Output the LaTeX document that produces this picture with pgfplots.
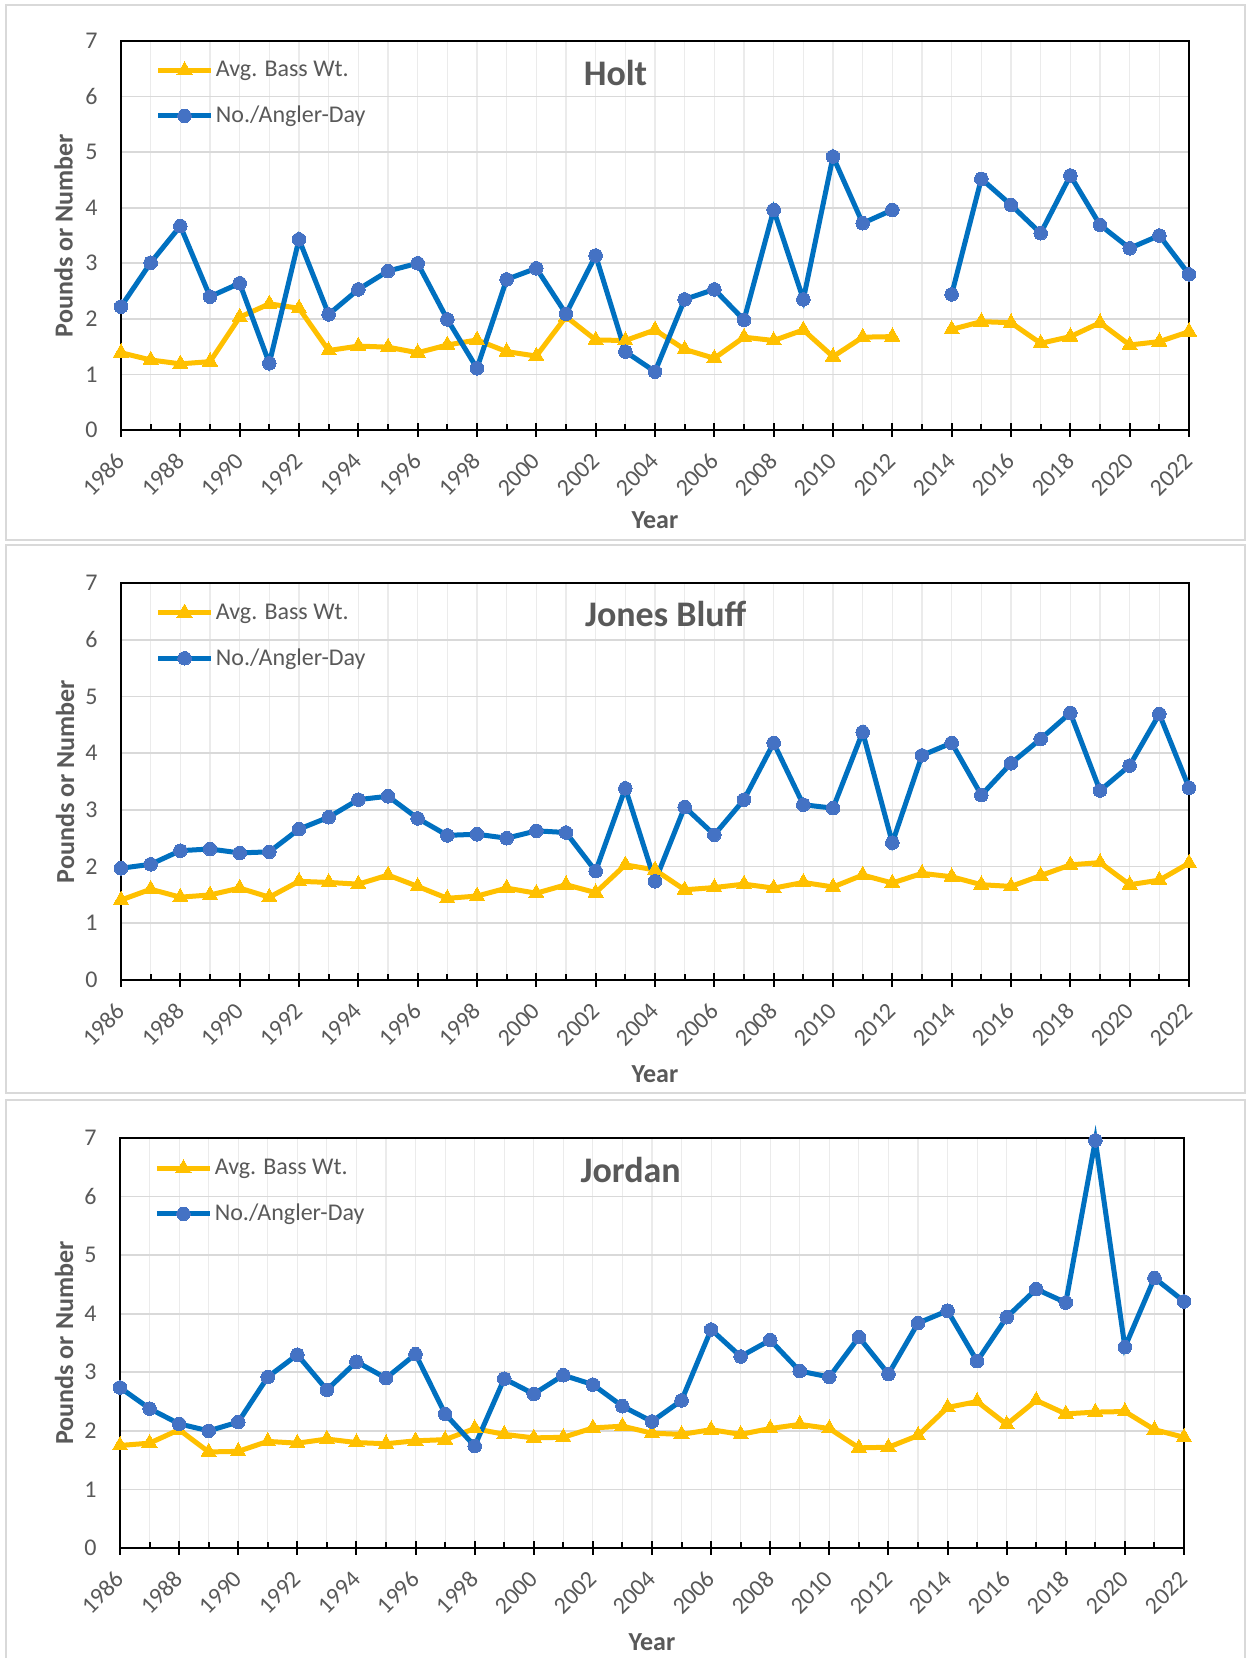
\documentclass[border=0pt]{standalone}
\usepackage{fontspec}
\setmainfont{Carlito}
\usepackage{pgfplots}
\usepackage{pgfplotstable}
\pgfplotsset{compat=1.18}
\definecolor{txtgray}{HTML}{595959}
\definecolor{blueline}{HTML}{0070C0}
\definecolor{bluemark}{HTML}{4472C4}
\definecolor{gold}{HTML}{FFC000}
\definecolor{gridmaj}{HTML}{D9D9D9}
\definecolor{gridmin}{HTML}{EBEBEB}
\definecolor{framegray}{HTML}{D9D9D9}
\newcommand\tfont{\fontsize{12}{14}\selectfont}

\pgfplotstableread{
year wt num
1986 1.39 2.22
1987 1.26 3.01
1988 1.19 3.67
1989 1.23 2.40
1990 2.03 2.64
1991 2.27 1.20
1992 2.19 3.43
1993 1.43 2.08
1994 1.51 2.53
1995 1.49 2.86
1996 1.39 3.00
1997 1.53 1.99
1998 1.62 1.11
1999 1.41 2.71
2000 1.33 2.91
2001 2.04 2.09
2002 1.62 3.14
2003 1.61 1.41
2004 1.80 1.05
2005 1.45 2.35
2006 1.29 2.53
2007 1.67 1.98
2008 1.61 3.96
2009 1.80 2.35
2010 1.32 4.92
2011 1.67 3.72
2012 1.68 3.96
2013 nan nan
2014 1.81 2.44
2015 1.95 4.52
2016 1.93 4.05
2017 1.56 3.54
2018 1.68 4.58
2019 1.93 3.69
2020 1.53 3.27
2021 1.59 3.50
2022 1.77 2.80
}\holt

\pgfplotstableread{
year wt num
1986 1.41 1.97
1987 1.60 2.04
1988 1.46 2.28
1989 1.50 2.31
1990 1.62 2.24
1991 1.46 2.26
1992 1.74 2.66
1993 1.72 2.87
1994 1.69 3.18
1995 1.85 3.24
1996 1.65 2.85
1997 1.44 2.55
1998 1.48 2.57
1999 1.62 2.50
2000 1.53 2.63
2001 1.68 2.60
2002 1.54 1.92
2003 2.03 3.38
2004 1.94 1.74
2005 1.59 3.05
2006 1.63 2.56
2007 1.69 3.18
2008 1.62 4.18
2009 1.72 3.09
2010 1.64 3.03
2011 1.85 4.37
2012 1.71 2.42
2013 1.88 3.96
2014 1.82 4.18
2015 1.68 3.26
2016 1.65 3.82
2017 1.84 4.25
2018 2.03 4.71
2019 2.07 3.34
2020 1.68 3.78
2021 1.76 4.69
2022 2.06 3.39
}\jones

\pgfplotstableread{
year wt num
1986 1.75 2.74
1987 1.79 2.38
1988 2.02 2.12
1989 1.64 2.00
1990 1.65 2.15
1991 1.82 2.92
1992 1.79 3.30
1993 1.86 2.70
1994 1.80 3.18
1995 1.78 2.90
1996 1.83 3.31
1997 1.85 2.29
1998 2.04 1.74
1999 1.94 2.89
2000 1.88 2.63
2001 1.89 2.95
2002 2.05 2.79
2003 2.08 2.42
2004 1.96 2.16
2005 1.94 2.52
2006 2.02 3.73
2007 1.94 3.27
2008 2.04 3.55
2009 2.11 3.02
2010 2.04 2.92
2011 1.71 3.60
2012 1.72 2.97
2013 1.92 3.84
2014 2.40 4.05
2015 2.50 3.19
2016 2.11 3.94
2017 2.52 4.42
2018 2.29 4.19
2019 2.32 6.96
2020 2.33 3.43
2021 2.02 4.61
2022 1.89 4.21
}\jordan

\pgfplotsset{
  lakestyle/.style={
    scale only axis,
    xmin=1986, xmax=2022, ymin=0, ymax=7,
    xtick={1986,1988,...,2022}, minor x tick num=1,
    ytick={0,1,...,7},
    xmajorgrids, xminorgrids, ymajorgrids,
    major x grid style={gridmin, line width=0.6pt},
    minor x grid style={gridmin, line width=0.6pt},
    major y grid style={gridmaj, line width=0.9pt},
    axis line style={black, line width=1pt},
    tick pos=left,
    tick align=center,
    major tick length=7pt,
    minor tick length=3pt,
    xtick style={black, line width=1pt},
    minor tick style={yshift=1.5pt},
    ytick style={draw=none},
    /pgf/number format/1000 sep={},
    /pgf/number format/assume math mode=true,
    yticklabel style={font=\tfont, text=txtgray, anchor=east, inner sep=0pt, xshift=-8pt},
    xticklabel style={font=\tfont, text=txtgray, yshift=-10pt, rotate=45, anchor=east, inner sep=0pt},
    clip=false,
    unbounded coords=jump,
    legend style={draw=none, fill=none, font=\tfont, text=txtgray, anchor=north west,
      inner sep=0pt, row sep=10.8pt, nodes={inner sep=1.2pt}},
    legend cell align=left,
    legend image code/.code={\draw[##1, mark repeat=2, mark phase=2] plot coordinates {(0pt,0pt) (13.25pt,0pt) (26.5pt,0pt)};},
  },
  wtstyle/.style={gold, line width=2.5pt, mark=triangle*, mark size=4.4pt, mark options={fill=gold, draw=gold, line width=0pt}},
  numstyle/.style={blueline, line width=2.5pt, mark=*, mark size=3.4pt, mark options={fill=bluemark, draw=bluemark, line width=0pt}},
}

\begin{document}
\begin{tikzpicture}
\useasboundingbox (0,0) rectangle (624pt,829pt);
\fill[white] (0,0) rectangle (624pt,829pt);
\draw[framegray, line width=0.9pt] (3pt,559pt) rectangle (622.5pt,826.5pt);
\draw[framegray, line width=0.9pt] (3pt,282.5pt) rectangle (622.5pt,556.5pt);
\draw[framegray, line width=0.9pt] (3pt,-5pt) rectangle (622.5pt,279pt);

% Holt
\begin{axis}[lakestyle, at={(60.5pt,614pt)}, anchor=south west, width=534pt, height=194.5pt,
  legend style={at={(rel axis cs:0.032,0.955)}}]
\addplot[wtstyle] table[x=year, y=wt] {\holt};
\addlegendentry{Avg. Bass Wt.}
\addplot[numstyle] table[x=year, y=num] {\holt};
\addlegendentry{No./Angler-Day}
\node[font=\bfseries\fontsize{18}{21}\selectfont, text=txtgray] at (rel axis cs:0.463,0.918) {Holt};
\node[font=\bfseries\fontsize{13}{15}\selectfont, text=txtgray, rotate=90] at ([xshift=-28.75pt]rel axis cs:0,0.5) {Pounds or Number};
\node[font=\bfseries\fontsize{13}{15}\selectfont, text=txtgray] at ([yshift=-45pt]rel axis cs:0.5,0) {Year};
\end{axis}

% Jones Bluff
\begin{axis}[lakestyle, at={(60.5pt,339pt)}, anchor=south west, width=534pt, height=198.5pt,
  legend style={at={(rel axis cs:0.032,0.955)}}]
\addplot[wtstyle] table[x=year, y=wt] {\jones};
\addlegendentry{Avg. Bass Wt.}
\addplot[numstyle] table[x=year, y=num] {\jones};
\addlegendentry{No./Angler-Day}
\node[font=\bfseries\fontsize{18}{21}\selectfont, text=txtgray] at (rel axis cs:0.510,0.921) {Jones Bluff};
\node[font=\bfseries\fontsize{13}{15}\selectfont, text=txtgray, rotate=90] at ([xshift=-28pt]rel axis cs:0,0.5) {Pounds or Number};
\node[font=\bfseries\fontsize{13}{15}\selectfont, text=txtgray] at ([yshift=-47.3pt]rel axis cs:0.5,0) {Year};
\end{axis}

% Jordan
\begin{axis}[lakestyle, at={(60pt,55pt)}, anchor=south west, width=532pt, height=205pt,
  legend style={at={(rel axis cs:0.032,0.955)}}]
\addplot[wtstyle] table[x=year, y=wt] {\jordan};
\addlegendentry{Avg. Bass Wt.}
\addplot[numstyle] table[x=year, y=num] {\jordan};
\addlegendentry{No./Angler-Day}
\node[font=\bfseries\fontsize{18}{21}\selectfont, text=txtgray] at (rel axis cs:0.480,0.922) {Jordan};
\node[font=\bfseries\fontsize{13}{15}\selectfont, text=txtgray, rotate=90] at ([xshift=-28pt]rel axis cs:0,0.5) {Pounds or Number};
\node[font=\bfseries\fontsize{13}{15}\selectfont, text=txtgray] at ([yshift=-47pt]rel axis cs:0.5,0) {Year};
\end{axis}
\end{tikzpicture}
\end{document}
